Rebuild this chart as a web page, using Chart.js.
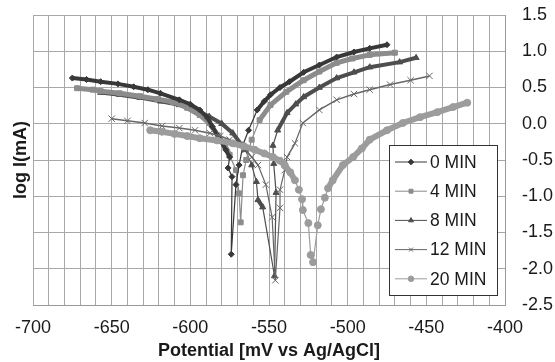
<!DOCTYPE html>
<html>
<head>
<meta charset="utf-8">
<script src="https://cdn.jsdelivr.net/npm/chart.js@4.4.1/dist/chart.umd.min.js"></script>
<style>
  html, body { margin: 0; padding: 0; background: #fff; }
  canvas { display: block; }
</style>
</head>
<body>
<canvas id="chartTafel" width="555" height="362"></canvas>
<script>
// series names
const seriesNames = ['0 MIN', '4 MIN', '8 MIN', '12 MIN', '20 MIN'];

// potential (mV vs Ag/AgCl) and log I (mA)
const mv0  = [-675, -666, -657, -646, -636, -627, -619, -607, -600, -594, -589, -586, -581, -577.5, -575, -576, -573.5, -574,
              -571, -569, -566.5, -563, -557.5, -553, -549, -543, -537, -528, -518, -507, -496, -486, -475];
const log0 = [0.63, 0.61, 0.58, 0.55, 0.51, 0.47, 0.42, 0.33, 0.27, 0.19, 0.08, -0.04, -0.22, -0.36, -0.46, -0.61, -0.73, -1.80,
              -0.84, -0.57, -0.29, -0.09, 0.19, 0.31, 0.40, 0.50, 0.58, 0.71, 0.81, 0.92, 0.99, 1.04, 1.09];

const mv4  = [-672, -662, -657, -645, -632, -621, -611, -602, -594, -588, -582.5, -578, -575, -571, -569, -568,
              -566.5, -564.5, -561, -556, -549, -539, -528, -518, -507, -497, -486, -470];
const log4 = [0.49, 0.47, 0.45, 0.42, 0.38, 0.34, 0.30, 0.22, 0.12, 0.01, -0.16, -0.30, -0.43, -0.64, -0.96, -1.36,
              -0.71, -0.50, -0.22, 0.05, 0.26, 0.44, 0.60, 0.72, 0.84, 0.90, 0.95, 0.98];

const mv8  = [-657, -645, -632, -619, -607, -597, -588, -580, -573, -565, -561, -558, -557, -554, -546.5,
              -545.5, -547, -547.5, -544.5, -538.5, -533, -528, -518, -507, -496, -486, -467, -456.5];
const log8 = [0.43, 0.40, 0.36, 0.31, 0.26, 0.19, 0.10, 0.00, -0.13, -0.36, -0.57, -0.80, -1.05, -1.15, -2.10,
              -0.95, -0.55, -0.30, -0.09, 0.15, 0.27, 0.37, 0.50, 0.63, 0.71, 0.78, 0.85, 0.91];

const mv12  = [-650, -640, -629, -618, -607, -597, -587.5, -581, -575, -570, -565, -561, -557, -552, -548, -546,
               -543, -543, -540, -538.5, -533.5, -528.5, -518, -507, -496, -486, -473, -460, -448];
const log12 = [0.07, 0.04, 0.01, -0.03, -0.06, -0.09, -0.13, -0.17, -0.22, -0.28, -0.36, -0.46, -0.57, -0.84, -1.29, -2.16,
               -1.16, -0.91, -0.64, -0.46, -0.27, 0.01, 0.19, 0.33, 0.41, 0.47, 0.54, 0.60, 0.66];

const mv20  = [-625.5, -618, -610, -602, -594, -583, -573, -566, -559, -553, -547.5, -543, -540, -536.5, -533.5, -531, -529, -528.5, -525, -523.5, -522,
               -519, -517, -514.5, -512.5, -509.5, -503, -496.5, -491, -486, -475, -465, -454, -443, -433, -424];
const log20 = [-0.09, -0.11, -0.14, -0.17, -0.20, -0.23, -0.27, -0.31, -0.36, -0.41, -0.46, -0.51, -0.57, -0.67, -0.78, -0.91, -1.04, -1.19, -1.37, -1.81, -1.91,
               -1.40, -1.18, -1.02, -0.89, -0.78, -0.57, -0.46, -0.34, -0.22, -0.09, 0.01, 0.09, 0.16, 0.23, 0.29];

// tick labels
const xTickLabels = [-700, -650, -600, -550, -500, -450, -400];
const yTickLabels = [-2.5, -2.0, -1.5, -1.0, -0.5, 0.0, 0.5, 1.0, 1.5];

const xs = [mv0, mv4, mv8, mv12, mv20];
const ys = [log0, log4, log8, log12, log20];
const colors = ['#383838', '#8c8c8c', '#4e4e4e', '#666666', '#9c9c9c'];
const styles = ['rectRot', 'rect', 'triangle', 'crossRot', 'circle'];
const radii = [3, 3.5, 3.5, 4.5, 3.5];
const bands = [4, 5, 4, 1.5, 6];
const orders = [2, 3, 4, 1, 0];

const FONT = "'Liberation Sans', Arial, sans-serif";

const datasets = seriesNames.map((name, i) => ({
  label: name,
  data: xs[i].map((x, j) => ({ x, y: ys[i][j] })),
  showLine: true,
  borderColor: colors[i],
  backgroundColor: colors[i],
  borderWidth: bands[i],
  pointStyle: styles[i],
  pointRadius: radii[i],
  pointBorderWidth: 1,
  pointBackgroundColor: colors[i],
  pointBorderColor: colors[i],
  order: orders[i],
  segment: {
    // steep parts near the corrosion potential are thin lines
    borderWidth: ctx => {
      const dx = Math.abs(ctx.p1.x - ctx.p0.x), dy = Math.abs(ctx.p1.y - ctx.p0.y);
      return dy > 2.2 * dx ? 1.2 : bands[i];
    }
  }
}));

const boxLegend = {
  id: 'boxLegend',
  afterDraw(chart){
    const ctx = chart.ctx;
    const x0 = 389.5, y0 = 145.5, w = 108, h = 150;
    ctx.save();
    ctx.fillStyle = '#fff';
    ctx.fillRect(x0, y0, w, h);
    ctx.strokeStyle = '#333';
    ctx.lineWidth = 1;
    ctx.strokeRect(x0, y0, w, h);
    ctx.font = '17.5px ' + FONT;
    ctx.textBaseline = 'middle';
    ctx.textAlign = 'left';
    seriesNames.forEach((name, i) => {
      const y = 162 + i * 29.2;
      ctx.strokeStyle = colors[i];
      ctx.lineWidth = 1;
      ctx.beginPath(); ctx.moveTo(395, y); ctx.lineTo(427, y); ctx.stroke();
      ctx.fillStyle = colors[i];
      Chart.helpers.drawPoint(ctx, { pointStyle: styles[i], radius: 2.8, borderWidth: 1, rotation: 0 }, 411, y);
      ctx.fillStyle = '#1a1a1a';
      ctx.fillText(name, 430, y + 1);
    });
    ctx.restore();
  }
};

new Chart(document.getElementById('chartTafel').getContext('2d'), {
  type: 'scatter',
  data: { datasets },
  plugins: [boxLegend],
  options: {
    responsive: false,
    animation: false,
    devicePixelRatio: 1,
    layout: { padding: { top: 15, left: 0, right: 0, bottom: 0 } },
    plugins: { legend: { display: false }, tooltip: { enabled: false } },
    scales: {
      x: {
        type: 'linear', position: 'bottom', min: -700, max: -400,
        ticks: {
          stepSize: 10, autoSkip: false, maxRotation: 0, minRotation: 0, padding: 12,
          color: '#1a1a1a', font: { size: 18, family: FONT },
          callback: v => xTickLabels.includes(v) ? String(v) : ''
        },
        grid: { color: '#a8a8a8', lineWidth: 1, drawTicks: false },
        border: { color: '#999' },
        title: { display: true, text: 'Potential [mV vs Ag/AgCl]', color: '#1a1a1a',
                 font: { size: 18, weight: 'bold', family: FONT }, padding: { top: 0, bottom: 0 } },
        afterFit: s => { s.height = 57; }
      },
      y: {
        type: 'linear', position: 'right', min: -2.5, max: 1.5,
        ticks: {
          stepSize: 0.5, padding: 0, color: '#1a1a1a', font: { size: 18, family: FONT },
          callback: v => yTickLabels.some(t => Math.abs(t - v) < 1e-6) ? v.toFixed(1) : ''
        },
        grid: { color: '#a8a8a8', lineWidth: 1, drawTicks: true, tickLength: 17, tickColor: 'rgba(0,0,0,0)' },
        border: { color: '#999' },
        afterFit: s => { s.width = 50; }
      },
      yl: {
        type: 'linear', position: 'left', min: -2.5, max: 1.5,
        grid: { display: false }, ticks: { display: false }, border: { display: false },
        title: { display: true, text: 'log I(mA)', color: '#1a1a1a',
                 font: { size: 18, weight: 'bold', family: FONT }, padding: { top: 10, bottom: 0 } },
        afterFit: s => { s.width = 33; }
      }
    }
  }
});
</script>
</body>
</html>
